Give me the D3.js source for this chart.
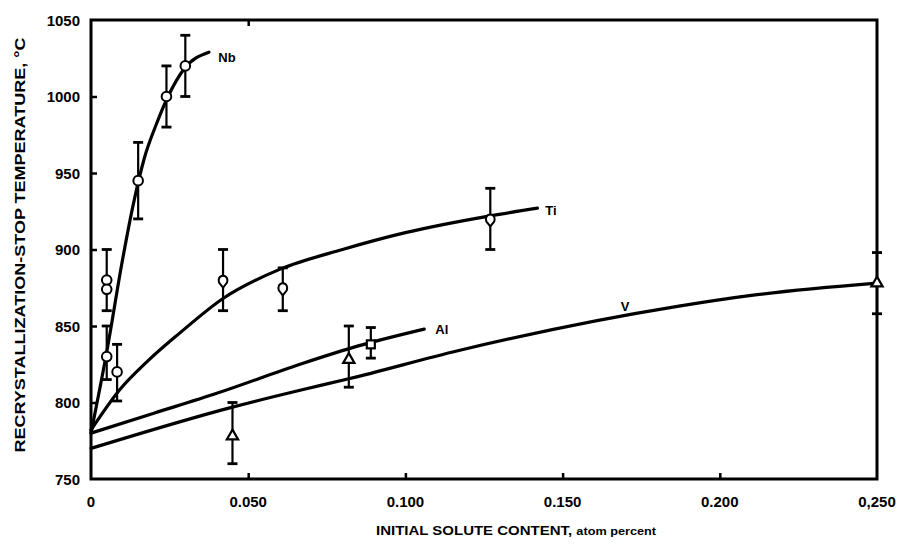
<!DOCTYPE html>
<html>
<head>
<meta charset="utf-8">
<script src="https://cdn.jsdelivr.net/npm/d3@7"></script>
<style>
  html, body { margin: 0; padding: 0; background: #fff; }
  svg { display: block; }
  text { font-family: "Liberation Sans", Arial, sans-serif; font-weight: bold; fill: #000; }
</style>
</head>
<body>
<svg id="chart" width="906" height="545"></svg>
<script>
// ---------- data ----------
const xTickValues = [0, 0.05, 0.10, 0.15, 0.20, 0.25];
const xTickLabels = ["0", "0.050", "0.100", "0.150", "0.200", "0,250"];
const yTickValues = [750, 800, 850, 900, 950, 1000, 1050];
const yTickLabels = ["750", "800", "850", "900", "950", "1000", "1050"];

// fitted curves
const nbCurveX = [0, 0.005, 0.010, 0.0135, 0.017, 0.021, 0.0245, 0.0296, 0.0375];
const nbCurveT = [780, 833, 893, 930, 960, 983, 1000, 1018, 1029];
const tiCurveX = [0, 0.009, 0.018, 0.028, 0.042, 0.060, 0.080, 0.100, 0.127, 0.142];
const tiCurveT = [782, 808, 827, 845, 868, 887, 900, 911, 922, 927];
const alCurveX = [0, 0.020, 0.040, 0.0665, 0.085, 0.106];
const alCurveT = [780, 793, 806, 825, 837, 848];
const vCurveX  = [0, 0.045, 0.0665, 0.082, 0.117, 0.187, 0.210, 0.250];
const vCurveT  = [770, 797, 808, 815.5, 834, 863, 870, 878];

// measured points with scatter bars
const nbX  = [0.005, 0.005, 0.005, 0.0083, 0.015, 0.024, 0.030];
const nbT  = [880, 874, 830, 820, 945, 1000, 1020];
const nbLo = [860, null, 815, 801, 920, 980, 1000];
const nbHi = [900, null, 850, 838, 970, 1020, 1040];

const tiX  = [0.042, 0.061, 0.127];
const tiT  = [879, 874, 919];
const tiLo = [860, 860, 900];
const tiHi = [900, 888, 940];

const alX  = [0.089];
const alT  = [838];
const alLo = [829];
const alHi = [849];

const vX   = [0.045, 0.082, 0.250];
const vT   = [778, 828, 878];
const vLo  = [760, 810, 858];
const vHi  = [800, 850, 898];

const curveLabels = ["Nb", "Ti", "Al", "V"];
const curveLabelX = [0.0405, 0.1445, 0.1095, 0.1685];
const curveLabelT = [1026, 926, 848, 863];

const xTitle = "INITIAL SOLUTE CONTENT, ";
const xTitleUnit = "atom percent";
const yTitle = "RECRYSTALLIZATION-STOP TEMPERATURE, °C";

// ---------- drawing ----------
const svg = d3.select("#chart");
const plotL = 91, plotR = 877, plotT = 20, plotB = 479;

const x = d3.scaleLinear().domain([0, 0.25]).range([plotL, plotR]);
const y = d3.scaleLinear().domain([750, 1050]).range([plotB, plotT]);

// frame
svg.append("rect")
  .attr("x", plotL).attr("y", plotT)
  .attr("width", plotR - plotL).attr("height", plotB - plotT)
  .attr("fill", "none").attr("stroke", "#000").attr("stroke-width", 3);

// axes (ticks inward, no domain line)
const yAxis = d3.axisRight(y).tickValues(yTickValues.slice(1, -1)).tickSize(6).tickFormat("");
svg.append("g").attr("transform", `translate(${plotL},0)`).call(yAxis)
  .call(g => g.select(".domain").remove())
  .call(g => g.selectAll("line").attr("stroke", "#000").attr("stroke-width", 2.5));

const xAxis = d3.axisTop(x).tickValues(xTickValues.slice(1, -1)).tickSize(6).tickFormat("");
svg.append("g").attr("transform", `translate(0,${plotB})`).call(xAxis)
  .call(g => g.select(".domain").remove())
  .call(g => g.selectAll("line").attr("stroke", "#000").attr("stroke-width", 2.5));

const xTopAxis = d3.axisBottom(x).tickValues([0.05]).tickSize(6).tickFormat("");
svg.append("g").attr("transform", `translate(0,${plotT})`).call(xTopAxis)
  .call(g => g.select(".domain").remove())
  .call(g => g.selectAll("line").attr("stroke", "#000").attr("stroke-width", 2.5));

// tick labels
svg.append("g").selectAll("text").data(yTickValues).join("text")
  .attr("x", 80).attr("y", d => y(d) + 5.5)
  .attr("text-anchor", "end").attr("font-size", 15)
  .text((d, i) => yTickLabels[i]);

svg.append("g").selectAll("text").data(xTickValues).join("text")
  .attr("x", d => x(d)).attr("y", 507)
  .attr("text-anchor", "middle").attr("font-size", 15)
  .text((d, i) => xTickLabels[i]);

// axis titles
const xt = svg.append("text").attr("x", 376).attr("y", 535).attr("font-size", 13)
  .attr("textLength", 280).attr("lengthAdjust", "spacingAndGlyphs");
xt.append("tspan").text(xTitle);
xt.append("tspan").attr("font-size", 11).text(xTitleUnit);

svg.append("text")
  .attr("transform", "translate(25,245) rotate(-90)")
  .attr("text-anchor", "middle").attr("font-size", 14)
  .attr("textLength", 415).attr("lengthAdjust", "spacingAndGlyphs")
  .text(yTitle);

// curves
const line = d3.line().x(d => x(d[0])).y(d => y(d[1])).curve(d3.curveMonotoneX);
const curves = [
  [nbCurveX, nbCurveT], [tiCurveX, tiCurveT], [alCurveX, alCurveT], [vCurveX, vCurveT]
];
curves.forEach(([xs, ts]) => {
  svg.append("path")
    .attr("d", line(xs.map((v, i) => [v, ts[i]])))
    .attr("fill", "none").attr("stroke", "#000").attr("stroke-width", 3.2)
    .attr("stroke-linecap", "round");
});

// error bars
function errorBars(xs, lo, hi) {
  const g = svg.append("g").attr("stroke", "#000").attr("stroke-width", 2.2);
  xs.forEach((v, i) => {
    if (lo[i] == null) return;
    const cx = x(v);
    g.append("line").attr("x1", cx).attr("x2", cx).attr("y1", y(lo[i])).attr("y2", y(hi[i]));
    g.append("line").attr("x1", cx - 5).attr("x2", cx + 5).attr("y1", y(lo[i])).attr("y2", y(lo[i])).attr("stroke-width", 2.8);
    g.append("line").attr("x1", cx - 5).attr("x2", cx + 5).attr("y1", y(hi[i])).attr("y2", y(hi[i])).attr("stroke-width", 2.8);
  });
}
errorBars(nbX, nbLo, nbHi);
errorBars(tiX, tiLo, tiHi);
errorBars(alX, alLo, alHi);
errorBars(vX, vLo, vHi);

// markers
svg.append("g").selectAll("circle").data(nbX).join("circle")
  .attr("cx", d => x(d)).attr("cy", (d, i) => y(nbT[i])).attr("r", 4.8)
  .attr("fill", "#fff").attr("stroke", "#000").attr("stroke-width", 2);

svg.append("g").selectAll("path").data(tiX).join("path")
  .attr("transform", (d, i) => `translate(${x(d)},${y(tiT[i])})`)
  .attr("d", "M0,-6 C4,-6 5,-2 4,1 L0,6 L-4,1 C-5,-2 -4,-6 0,-6 Z")
  .attr("fill", "#fff").attr("stroke", "#000").attr("stroke-width", 2);

svg.append("g").selectAll("rect").data(alX).join("rect")
  .attr("x", d => x(d) - 4).attr("y", (d, i) => y(alT[i]) - 4)
  .attr("width", 8).attr("height", 8)
  .attr("fill", "#fff").attr("stroke", "#000").attr("stroke-width", 2.2);

svg.append("g").selectAll("path").data(vX).join("path")
  .attr("transform", (d, i) => `translate(${x(d)},${y(vT[i])})`)
  .attr("d", d3.symbol().type(d3.symbolTriangle).size(55)())
  .attr("fill", "#fff").attr("stroke", "#000").attr("stroke-width", 2.2);

// curve labels
svg.append("g").selectAll("text").data(curveLabels).join("text")
  .attr("x", (d, i) => x(curveLabelX[i])).attr("y", (d, i) => y(curveLabelT[i]) + 5)
  .attr("font-size", 13)
  .text(d => d);
</script>
</body>
</html>
